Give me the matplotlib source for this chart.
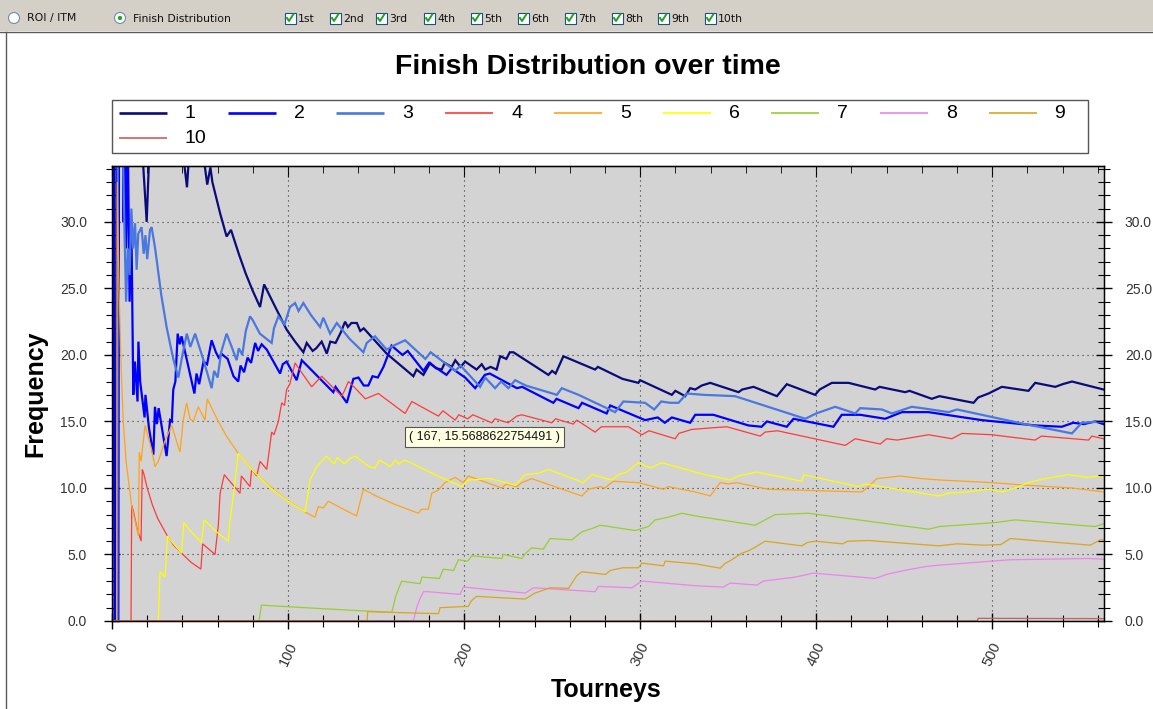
import matplotlib
matplotlib.use('Agg')
import matplotlib.pyplot as plt
from matplotlib.patches import Rectangle, Circle
from matplotlib.ticker import MultipleLocator, FormatStrFormatter, NullFormatter

W, H = 1153, 709
plt.rcParams['font.family'] = ['Liberation Sans', 'DejaVu Sans']

chart_title = "Finish Distribution over time"
x_label = "Tourneys"
y_label = "Frequency"
series_names = ['1', '2', '3', '4', '5', '6', '7', '8', '9', '10']
series_colors = ['#0B0B7A', '#0000FF', '#4A78E0', '#FF3A3A', '#FFA31A',
                 '#FFFF00', '#9ACD32', '#EE82EE', '#DAA520', '#CD5C5C']
series_widths = [1.6, 1.6, 1.6, 0.9, 0.9, 0.9, 0.9, 0.9, 0.9, 0.9]
toolbar_radios = ['ROI / ITM', 'Finish Distribution']
toolbar_checks = ['1st', '2nd', '3rd', '4th', '5th', '6th', '7th', '8th', '9th', '10th']
tooltip_point = (167, 15.5688622754491)

# (tourney, frequency %) vertices
s1 = [(0,0),(2.2,0),(2.6,40),(6.5,40),(7.5,33.5),(8.2,40),(16,38),(17.6,34.5),(19.7,30.0),(21.5,36.4),
      (30,37),(40,35.5),(42.6,32.6),(44,35.5),(50,36),(52.3,34.6),(54.1,32.8),(55.9,34.1),(57,33.0),
      (61.5,30.6),(65.1,28.9),(67.6,29.4),(72,27.6),(76,26.1),(80,24.8),(84.1,23.6),(86.4,25.3),(92,23.8),
      (99.2,21.9),(104,21.0),(108.7,20.2),(110.6,20.9),(114,20.3),(116,20.5),(119.1,21.0),(122,20.1),
      (124,21.0),(127,20.9),(130,21.7),(132.4,22.5),(134,22.1),(136,22.4),(139.1,22.4),(141,21.8),(143,22.0),
      (156,20.1),(171.2,18.4),(173,18.9),(176.9,18.5),(180.7,19.4),(184,19.0),(187.3,18.9),(189,19.4),
      (193,19.1),(195,19.6),(198,19.1),(200.6,19.5),(207.1,18.9),(210,19.3),(212,18.9),(215,19.1),
      (218.5,18.9),(220.5,19.9),(224,19.7),(226,20.2),(228,20.2),(247.9,18.5),(250,18.8),(252,18.6),
      (256.4,19.9),(274.4,18.9),(276,19.1),(290,18.2),(299,17.9),(300,18.1),(318,17.0),(320,17.3),
      (325.6,16.9),(328.4,17.5),(331.3,17.4),(335,17.7),(339.8,17.9),(355.9,17.2),(358,17.4),(364.4,17.6),
      (377.7,16.9),(383.3,17.8),(399.4,17.0),(402,17.4),(408.9,17.9),(418.4,17.9),(433.5,17.4),(436,17.6),
      (450.6,17.2),(453,17.3),(465.7,16.7),(470,16.9),(489.4,16.4),(492,16.8),(497.9,17.1),(505.5,17.6),
      (520.6,17.3),(524.4,17.9),(535.8,17.6),(540,17.8),(545.3,18.0),(563.2,17.4)]

s2 = [(0,0),(0.5,50),(1,50),(1.5,0),(3.6,0),(4,40),(6,40),(6.6,30),(7.2,38),(8,28),(9,36),(10,24),(11,30),
      (12.1,17),(13,19.5),(14.5,16.5),(15,21),(16,18),(18.5,15.3),(19,17),(21,14.5),(23.5,12.5),(24.4,16.1),
      (25.5,14.8),(26.5,16.0),(31,12.4),(33,15.1),(34,15.0),(34.8,17.4),(36,18),(37.3,21.6),(38.5,20.8),
      (39.5,21.4),(46.8,17.1),(48,18.6),(49.5,17.8),(52,19.5),(54,19.3),(56.6,21.1),(59,20.2),(61,19.7),
      (62,20.1),(65.7,19.7),(69,18.4),(71.7,18.0),(73,19.2),(75,18.7),(77,19.8),(79,19.4),(81.3,20.9),
      (83,20.3),(85,20.8),(87.9,20.4),(95.5,18.6),(97,19.3),(99.2,19.5),(104.9,18.1),(107.8,19.6),
      (125.7,17.2),(127,17.6),(133.4,16.4),(137.1,18.2),(140,18.3),(143,17.7),(145.6,17.7),(148,18.4),
      (151,18.3),(154.2,19.1),(158.8,20.7),(165,20.0),(168,20.3),(176.9,18.8),(180,19.4),(190,18.5),
      (193,19.0),(200.6,18.3),(206.3,17.5),(211.8,18.5),(214.6,18.6),(230,17.5),(233,17.6),(250.7,16.4),
      (252.5,16.7),(265,16.0),(267,16.4),(281,15.6),(283,16.2),(302.8,15.1),(310,15.3),(314,14.9),
      (318,15.3),(328.4,14.9),(331.3,15.5),(341.6,15.5),(361.5,14.7),(369,14.6),(372,15.0),(383.3,14.6),
      (387.1,15.2),(409.8,14.6),(414.5,15.5),(425,15.5),(439.2,15.2),(448.7,15.7),(463.8,15.7),(494,15.1),
      (524.4,14.7),(539.5,14.6),(546,14.9),(552,14.8),(558.5,15.0),(563.2,14.8)]

s3 = [(0,0),(3,0),(3.3,40),(5.5,40),(7,30),(8,24),(9,28),(10,26),(11,31),(12,28),(13.1,29.9),(14,26.4),
      (14.9,29.1),(16.8,29.6),(18,27.6),(19,29),(20,27.2),(21.6,29.4),(22.5,29.6),(24.4,28.1),(28,24.5),
      (31,22.1),(34.8,19.7),(37.7,18.3),(40,20),(42.5,21.6),(44.5,20.6),(47.2,21.6),(52,19.6),(56.6,17.5),
      (58,18.8),(60,18.3),(62,20.2),(65.1,21.6),(68,20.6),(70.8,19.6),(72,20.5),(74,20),(76,21.8),
      (78.4,22.9),(80,22.6),(84,21.6),(90.7,20.9),(92,22.0),(94.5,22.9),(98,22.3),(101.1,23.6),(104,23.9),
      (106,23.3),(108.7,23.9),(113,23.0),(118.2,22.1),(120,22.8),(123.9,21.6),(127.7,22.4),(135,21.2),
      (142.8,20.2),(144.7,20.9),(149.4,21.4),(156,20.4),(160,20.7),(166.5,21.1),(178,19.7),(181,20.2),
      (195,18.8),(198,19.2),(209.1,17.6),(212,18.3),(217.6,17.5),(221,18.0),(225.2,17.5),(229,18.1),
      (235,17.7),(252.7,17.0),(255.5,17.5),(265,17.0),(285.8,15.7),(290.5,16.5),(302.8,16.4),(308,15.9),
      (312,16.5),(317,16.4),(321.8,16.4),(326.5,17.1),(336,17.0),(353.9,16.9),(393.8,15.2),(400,15.6),
      (410.8,16.1),(422.2,15.6),(425,16.0),(437.3,15.9),(443,15.6),(454.3,16.1),(460,16.0),(475.2,15.7),
      (480,15.9),(514.9,14.9),(545.3,14.1),(550.9,14.9),(563.2,15.0)]

s4 = [(0,0),(10.8,0),(11.2,8.7),(12.1,8.3),(14,7.1),(16.5,6.0),(17.2,11.4),(18,11.1),(20,10.0),(23,8.7),
      (26,7.7),(31,6.5),(35,5.7),(39.5,5.1),(45,4.4),(50.5,3.9),(51.5,5.8),(58.5,5.0),(60.4,7.2),(61.4,9.6),
      (63.8,11.0),(65,10.8),(72.7,9.6),(73.5,10.9),(78.4,10.1),(79.3,11.4),(82.2,10.9),(84.1,12.0),
      (87.9,11.4),(90.7,14.2),(92,14.0),(94.5,15.0),(96.4,16.4),(98,16.2),(99.2,17.4),(101,17.8),(104,19.4),
      (105,19.2),(113.4,17.6),(119.1,18.4),(130.5,16.9),(132,17.3),(134.3,18.0),(136,17.8),(143.9,16.7),
      (151.3,17.1),(166.5,15.6),(170.3,16.5),(185.4,15.4),(188,15.8),(194.9,15.1),(197,15.5),(202,15.2),
      (205,15.5),(215.7,14.9),(217.6,15.2),(225,14.9),(229.9,15.4),(232.8,15.5),(249.8,14.9),(252,15.2),
      (262,14.8),(264,15.1),(274.4,14.2),(278,14.6),(293.4,14.6),(301,14.0),(305,14.3),(319.9,13.7),
      (322,14.1),(329.3,14.4),(338.8,14.5),(349.2,14.6),(368.2,13.9),(371,14.2),(378,14.3),(416.5,13.2),
      (422.2,13.7),(436.4,13.3),(440,13.7),(446,13.6),(463.8,14.0),(477.1,13.7),(482.8,14.1),(499.8,14.0),
      (524.4,13.6),(528,13.9),(554.7,13.6),(556.6,13.9),(563.2,13.7)]

s5 = [(0,0),(2.6,0),(3,33),(4,25),(5.2,19),(6.4,15),(8,12),(11.1,8.7),(15,6.4),(15.5,12.7),(16.5,12.0),
      (18.8,14.7),(22.5,12.9),(24.4,11.6),(26.3,12.0),(30,13.5),(33.9,14.7),(38.6,12.7),(40.5,15.1),
      (42.4,16.4),(44.3,15.2),(46.2,15.0),(49,16.1),(52.8,15.1),(54.1,16.7),(60,15.1),(65,13.9),(71.7,12.6),
      (80,11.3),(88.8,10.2),(99.2,9.1),(104,8.7),(109.6,8.2),(115.3,7.8),(117.2,8.6),(120,8.5),(122.9,9.0),
      (130,8.5),(138.9,7.9),(142.8,9.9),(150,9.4),(160,8.8),(174,8.1),(176,8.4),(179.7,8.4),(181.6,9.6),
      (185,9.8),(189.2,10.4),(194.9,10.8),(199.6,10.4),(202.4,10.9),(221.4,10.0),(224,10.3),(229.9,10.1),
      (232.8,10.4),(238.4,10.7),(266.9,9.4),(270.6,9.9),(277.3,10.1),(280,10.0),(284.8,10.5),(299,10.4),
      (313.3,9.9),(316,10.1),(331.3,9.7),(339.8,9.4),(345.5,10.4),(350,10.3),(354.9,10.4),(372.9,9.9),
      (400,9.8),(425.9,9.7),(429.7,10.1),(434.4,10.7),(447.7,10.9),(460,10.7),(470,10.6),(499.8,10.4),
      (520,10.2),(545.3,10.0),(563.2,9.7)]

s6 = [(0,0),(26.3,0),(27.3,3.7),(30.1,3.3),(31.6,6.4),(33,6.1),(35,5.8),(39.5,5.1),(40.8,7.4),(45,6.7),
      (50.8,5.9),(52.4,7.6),(59.4,6.7),(66.1,6.0),(67,7.5),(69,9.5),(70.5,11.2),(71.7,12.6),(80,11.3),
      (90,10.0),(100,9.0),(109.7,8.2),(112.5,10.6),(116.3,11.6),(121.9,12.4),(126,11.8),(128,12.3),
      (132,11.8),(135,12.2),(138.1,12.4),(146,11.6),(149.4,11.5),(152,12.1),(158,11.6),(161,12.1),
      (163,11.8),(166,12.1),(169.6,11.9),(185,10.9),(198.7,10.1),(202.4,10.6),(205,10.6),(212.8,10.7),
      (215,10.7),(229,10.2),(234.7,11.0),(242.2,11.1),(247.9,11.4),(267.8,10.4),(272.6,11.0),(283.9,10.6),
      (287.7,11.0),(292.4,11.2),(297.2,11.7),(299,11.9),(305.7,11.5),(312.3,11.9),(331.3,11.2),(336.9,11.0),
      (351.1,10.6),(355.9,10.9),(366.3,11.2),(391.9,10.5),(392.8,11.0),(424,10.1),(428,10.3),(469.5,9.4),
      (475,9.6),(485,9.7),(497.9,9.9),(505.5,9.7),(513.1,10.0),(520.6,10.4),(530,10.7),(543.3,11.0),
      (553,10.8),(563.2,10.9)]

s7 = [(0,0),(83.5,0),(84.9,1.2),(90,1.15),(109.7,1.0),(130,0.85),(158.9,0.65),(159.8,1.1),(161,1.8),
      (163,2.5),(164.6,3.0),(175,2.8),(176,3.3),(186,3.2),(188.2,3.9),(194,3.8),(196.8,4.6),(202,4.5),
      (204.4,4.9),(221.4,4.7),(222.3,5.0),(232.8,4.7),(235,5.1),(238.4,5.5),(245,5.4),(248.9,6.2),
      (261.2,6.1),(266.9,6.7),(273.7,7.0),(277.3,7.2),(297.2,6.8),(304.7,7.1),(308.5,7.6),(316,7.8),
      (323.7,8.1),(331.3,7.9),(365.3,7.2),(376.7,8.0),(395.6,8.1),(463.8,6.9),(470,7.1),(501.7,7.4),
      (513.1,7.6),(540,7.3),(558.5,7.1),(563.2,7.3)]

s8 = [(0,0),(171.2,0),(173.3,1.1),(175,1.7),(177,2.2),(179.7,2.2),(197.7,2.0),(199.6,2.55),(234.7,2.1),
      (239.4,2.5),(274.4,2.2),(276.3,2.6),(295.3,2.5),(301,3.0),(331.3,2.65),(347.3,2.55),(351.1,2.85),
      (366.3,2.7),(370,3.0),(388.1,3.3),(398.5,3.6),(433.5,3.2),(440,3.5),(450,3.8),(462.5,4.1),(470,4.2),
      (499.8,4.5),(510,4.6),(553.8,4.7),(563.2,4.65)]

s9 = [(0,0),(145,0),(145.2,0.7),(185.4,0.55),(186.4,1.0),(202.4,1.1),(204,1.5),(207.1,1.85),(234.7,1.65),
      (240.3,2.1),(248.9,2.5),(259.3,2.45),(262,3.0),(264,3.4),(266.9,3.7),(280.3,3.5),(283,3.8),(290,4.0),
      (299,4.0),(301,4.35),(313.3,4.15),(314.2,4.5),(331.3,4.3),(345.5,3.97),(348,4.3),(352,4.6),
      (357.8,5.1),(362,5.3),(366,5.6),(371,6.0),(391.9,5.65),(395,5.9),(399.4,6.0),(415,5.8),(418,6.0),
      (429.7,6.05),(469.5,5.65),(480,5.8),(495,5.7),(505,5.75),(510.2,6.2),(555.7,5.7),(561.4,6.1),
      (563.2,6.1)]

s10 = [(0,0),(491.5,0),(492,0.2),(563.2,0.18)]

all_series = [s1, s2, s3, s4, s5, s6, s7, s8, s9, s10]

fig = plt.figure(figsize=(W / 100, H / 100), dpi=100)
fig.patch.set_facecolor('white')

# ---------- overlay (pixel coordinates) ----------
ov = fig.add_axes([0, 0, 1, 1], zorder=0)
ov.set_xlim(0, W)
ov.set_ylim(H, 0)
ov.axis('off')

ov.add_patch(Rectangle((0, 0), W, 31, fc='#D4D0C8', ec='none'))
ov.plot([0, W], [31.5, 31.5], color='#5A5A5A', lw=1)
ov.plot([5.5, 5.5], [31.5, H], color='#5A5A5A', lw=1)

radio_x = [14, 120]
for i, (rx, lab) in enumerate(zip(radio_x, toolbar_radios)):
    ov.add_patch(Circle((rx, 18), 5.5, fc='white', ec='#6F8DA9', lw=0.8))
    if i == 1:
        ov.add_patch(Circle((rx, 18), 2.2, fc='#2DA52D', ec='none'))
    ov.text(rx + 13, 18.5, lab, fontsize=7.8, va='center', ha='left',
            family='DejaVu Sans', color='#111111')

check_x = [290, 335, 381, 429, 476, 523, 570, 617, 663, 710]
for cx, lab in zip(check_x, toolbar_checks):
    ov.add_patch(Rectangle((cx - 5.5, 12.5), 11, 11, fc='white', ec='#1C5180', lw=0.8))
    ov.plot([cx - 3, cx - 1, cx + 3.2], [18, 21, 14.5], color='#21A121', lw=1.4)
    ov.text(cx + 8, 18.5, lab, fontsize=7.8, va='center', ha='left',
            family='DejaVu Sans', color='#111111')

ov.text(588, 67, chart_title, ha='center', va='center', fontsize=20.5, fontweight='bold')

# legend box
ov.add_patch(Rectangle((112, 100), 976, 53, fc='white', ec='#555555', lw=1))
spacing = 108.7
for i, (name, col, lw) in enumerate(zip(series_names, series_colors, series_widths)):
    if i < 9:
        x0, yy = 119 + spacing * i, 113
    else:
        x0, yy = 119, 138
    ov.plot([x0, x0 + 48], [yy, yy], color=col, lw=lw + 0.3, solid_capstyle='butt')
    ov.text(x0 + 66, yy + 0.5, name, fontsize=14, va='center', ha='left')

# ---------- main axes ----------
ax = fig.add_axes([112 / W, 1 - 621 / H, 992 / W, 455 / H], zorder=1)
ax.set_facecolor('#D3D3D3')
for pts, col, lw in zip(all_series, series_colors, series_widths):
    xs = [p[0] for p in pts]
    ys = [p[1] for p in pts]
    ax.plot(xs, ys, color=col, lw=lw, solid_joinstyle='miter')

ax.set_xlim(0, 563.5)
ax.set_ylim(0, 34.2)
ax.xaxis.set_major_locator(MultipleLocator(100))
ax.xaxis.set_minor_locator(MultipleLocator(20))
ax.yaxis.set_major_locator(MultipleLocator(5))
ax.yaxis.set_minor_locator(MultipleLocator(1))
ax.yaxis.set_major_formatter(FormatStrFormatter('%.1f'))
ax.set_axisbelow(True)
ax.grid(True, which='major', color='#333333', linestyle=(0, (1, 3.5)), linewidth=0.8)
for sp in ax.spines.values():
    sp.set_color('black')
    sp.set_linewidth(1)

ax.tick_params(which='both', direction='inout', color='black', top=False, right=False)
ax.tick_params(which='major', length=12, width=1)
ax.tick_params(which='minor', length=8, width=0.8)
ax.tick_params(axis='y', which='major', labelsize=10, labelcolor='#333333', pad=12)
ax.tick_params(axis='x', which='major', labelsize=10.5, labelcolor='#333333', pad=8, labelrotation=65)

ax2 = ax.twinx()
ax2.set_ylim(ax.get_ylim())
ax2.yaxis.set_major_locator(MultipleLocator(5))
ax2.yaxis.set_minor_locator(MultipleLocator(1))
ax2.yaxis.set_major_formatter(FormatStrFormatter('%.1f'))
ax2.tick_params(which='both', direction='inout', color='black')
ax2.tick_params(which='major', length=12, width=1, labelsize=10, labelcolor='#333333', pad=9)
ax2.tick_params(which='minor', length=8, width=0.8)

sec = ax.secondary_xaxis('top')
sec.xaxis.set_major_locator(MultipleLocator(100))
sec.xaxis.set_minor_locator(MultipleLocator(20))
sec.xaxis.set_major_formatter(NullFormatter())
sec.tick_params(which='both', direction='in', color='black')
sec.tick_params(which='major', length=8)
sec.tick_params(which='minor', length=5)

ax.set_xlabel(x_label, fontsize=18, fontweight='bold')
ax.xaxis.set_label_coords(0.498, -0.125)
ax.set_ylabel(y_label, fontsize=18, fontweight='bold')
ax.yaxis.set_label_coords(-0.065, 0.5)

tip = "( {}, {} )".format(tooltip_point[0], tooltip_point[1])
ax.annotate(tip, xy=tooltip_point, xytext=(3, -17), textcoords='offset pixels',
            ha='left', va='top', fontsize=9, color='#111111',
            bbox=dict(boxstyle='square,pad=0.3', fc='#FFFFE1', ec='#555555', lw=0.8),
            zorder=10)

fig.savefig('out.png', dpi=100)
